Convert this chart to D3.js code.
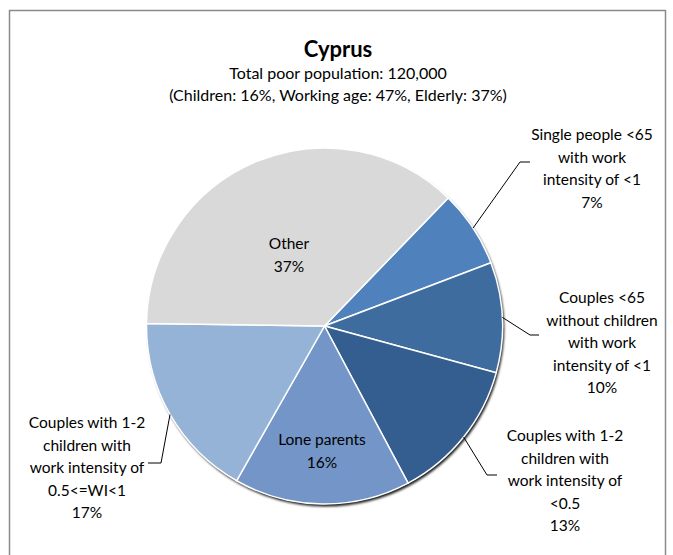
<!DOCTYPE html>
<html>
<head>
<meta charset="utf-8">
<script src="https://cdn.jsdelivr.net/npm/d3@7"></script>
<style>
  body { margin: 0; background: #fff; }
  svg text { font-family: Lato, "Open Sans", sans-serif; fill: #000; }
</style>
</head>
<body>
<svg width="673" height="555"></svg>
<script>
// data
var categories = [
  "Single people <65|with work|intensity of <1",
  "Couples <65|without children|with work|intensity of <1",
  "Couples with 1-2|children with|work intensity of|<0.5",
  "Lone parents",
  "Couples with 1-2|children with|work intensity of|0.5<=WI<1",
  "Other"
];
var shares = [7, 10, 13, 16, 17, 37];
var colors = ["#4f81bd", "#3f6c9f", "#345d90", "#7395c7", "#95b3d7", "#d9d9d9"];
var titleText = "Cyprus";
var subtitleLines = ["Total poor population: 120,000", "(Children: 16%, Working age: 47%, Elderly: 37%)"];

var svg = d3.select("svg"),
  width = +svg.attr("width"),
  height = +svg.attr("height");

// chart frame
svg.append("rect")
  .attr("x", 9.5).attr("y", 10.5)
  .attr("width", 656).attr("height", 600)
  .attr("fill", "#fff")
  .attr("stroke", "#8a8a8a")
  .attr("stroke-width", 1.5);

// title
svg.append("text")
  .attr("x", 338).attr("y", 57)
  .attr("text-anchor", "middle")
  .style("font-size", "22px")
  .style("font-weight", "bold")
  .text(titleText);

svg.selectAll(".sub")
  .data(subtitleLines)
  .enter().append("text")
  .attr("class", "sub")
  .attr("x", 338)
  .attr("y", function (d, i) { return 79 + i * 22; })
  .attr("text-anchor", "middle")
  .style("font-size", "16px")
  .text(function (d) { return d; });

// pie
var cx = 324.5, cy = 326, r = 178;
var startDeg = 44;

var pie = d3.pie()
  .sort(null)
  .value(function (d) { return d; })
  .startAngle(startDeg * Math.PI / 180)
  .endAngle((startDeg + 360) * Math.PI / 180);

var arcs = pie(shares);
var arc = d3.arc().innerRadius(0).outerRadius(r);

var defs = svg.append("defs");
var f = defs.append("filter").attr("id", "shadow")
  .attr("x", "-10%").attr("y", "-10%").attr("width", "120%").attr("height", "120%");
f.append("feDropShadow")
  .attr("dx", 1.5).attr("dy", 2.5)
  .attr("stdDeviation", 0.8)
  .attr("flood-color", "#000")
  .attr("flood-opacity", 0.9);

var g = svg.append("g").attr("transform", "translate(" + cx + "," + cy + ")");

g.append("g").attr("filter", "url(#shadow)")
  .selectAll("path")
  .data(arcs)
  .enter().append("path")
  .attr("d", arc)
  .attr("fill", function (d, i) { return colors[i]; });

g.selectAll(".slice")
  .data(arcs)
  .enter().append("path")
  .attr("class", "slice")
  .attr("d", arc)
  .attr("fill", function (d, i) { return colors[i]; })
  .attr("stroke", "#fff")
  .attr("stroke-width", 1.5);

// label layout (text block center x, first baseline, leader elbow)
var layout = [
  {x: 592, y: 140, elbow: [520, 162], end: [530, 162]},
  {x: 602, y: 303, elbow: [530, 335], end: [539, 335]},
  {x: 565, y: 441, elbow: [487, 475], end: [497, 475]},
  {x: 322, y: 445},
  {x: 87, y: 428, elbow: [161, 463], end: [148, 463]},
  {x: 289, y: 249}
];

arcs.forEach(function (d, i) {
  var L = layout[i];
  if (L.elbow) {
    var mid = (d.startAngle + d.endAngle) / 2;
    var p0 = [cx + r * Math.sin(mid), cy - r * Math.cos(mid)];
    svg.append("path")
      .attr("d", d3.line()([p0, L.elbow, L.end]))
      .attr("fill", "none")
      .attr("stroke", "#000")
      .attr("stroke-width", 1);
  }
  var lines = categories[i].split("|").concat([d.data + "%"]);
  var t = svg.append("text")
    .attr("text-anchor", "middle")
    .style("font-size", "15.5px");
  lines.forEach(function (s, j) {
    t.append("tspan")
      .attr("x", L.x)
      .attr("y", L.y + j * 22.6)
      .text(s);
  });
});
</script>
</body>
</html>
